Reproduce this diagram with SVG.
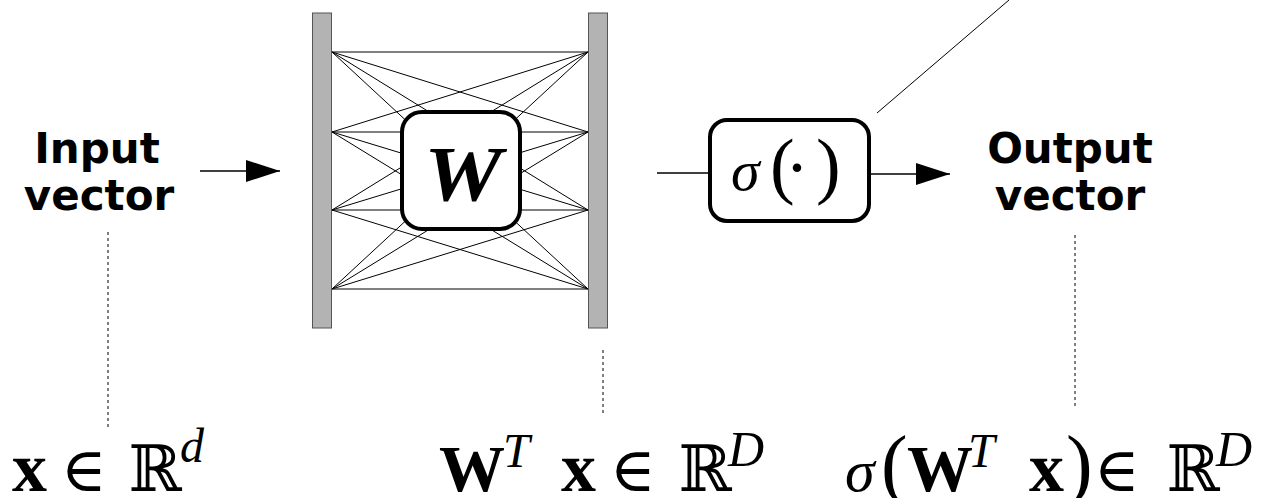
<svg xmlns="http://www.w3.org/2000/svg" width="1274" height="498" viewBox="0 0 1274 498">
<style>
.lbl{font-family:"DejaVu Sans",sans-serif;font-weight:bold;font-size:42px;fill:#000;text-anchor:middle}
.bar{fill:#b3b3b3;stroke:#555;stroke-width:1}
.box{fill:#fff;stroke:#000;stroke-width:4}
.net{stroke:#000;stroke-width:1;fill:none}
.flow{stroke:#000;stroke-width:1.5;fill:none}
.dash{stroke:#000;stroke-width:1;stroke-dasharray:3 3;fill:none}
.bf{font-family:"Liberation Serif",serif;font-weight:bold;fill:#000}
.it{font-family:"Liberation Serif",serif;font-style:italic;fill:#000}
.rm{font-family:"Liberation Serif",serif;fill:#000}
.sym{font-family:"DejaVu Serif","DejaVu Sans",serif;fill:#000;text-anchor:middle}
</style>
<defs>
<marker id="ah" markerWidth="34" markerHeight="22" refX="34" refY="11" orient="auto" markerUnits="userSpaceOnUse">
<path d="M0,0 L34,11 L0,22 Z" fill="#000"/>
</marker>
</defs>

<g id="connectors">
<g id="network">
<line class="net" x1="332" y1="52" x2="588" y2="52"/>
<line class="net" x1="332" y1="52" x2="588" y2="132"/>
<line class="net" x1="332" y1="52" x2="588" y2="210"/>
<line class="net" x1="332" y1="52" x2="588" y2="289"/>
<line class="net" x1="332" y1="132" x2="588" y2="52"/>
<line class="net" x1="332" y1="132" x2="588" y2="132"/>
<line class="net" x1="332" y1="132" x2="588" y2="210"/>
<line class="net" x1="332" y1="132" x2="588" y2="289"/>
<line class="net" x1="332" y1="210" x2="588" y2="52"/>
<line class="net" x1="332" y1="210" x2="588" y2="132"/>
<line class="net" x1="332" y1="210" x2="588" y2="210"/>
<line class="net" x1="332" y1="210" x2="588" y2="289"/>
<line class="net" x1="332" y1="289" x2="588" y2="52"/>
<line class="net" x1="332" y1="289" x2="588" y2="132"/>
<line class="net" x1="332" y1="289" x2="588" y2="210"/>
<line class="net" x1="332" y1="289" x2="588" y2="289"/>
</g>
<line class="flow" x1="200" y1="171" x2="280" y2="171" marker-end="url(#ah)"/>
<line class="flow" x1="657" y1="173" x2="708" y2="173"/>
<line class="flow" x1="871" y1="174" x2="950" y2="174" marker-end="url(#ah)"/>
<line class="net" x1="877" y1="113" x2="1009" y2="0"/>
<line class="dash" x1="108" y1="232" x2="108" y2="430"/>
<line class="dash" x1="603" y1="350" x2="603" y2="415"/>
<line class="dash" x1="1075" y1="235" x2="1075" y2="408"/>
</g>

<g id="input-label">
<text class="lbl" x="97" y="163">Input</text>
<text class="lbl" x="99" y="210">vector</text>
</g>

<g id="output-label">
<text class="lbl" x="1070" y="163">Output</text>
<text class="lbl" x="1070" y="210">vector</text>
</g>

<g id="input-layer">
<rect class="bar" x="312.5" y="13" width="19" height="315"/>
</g>
<g id="output-layer">
<rect class="bar" x="588.5" y="13" width="19" height="315"/>
</g>

<g id="weights">
<rect class="box" x="402" y="112" width="118" height="117" rx="20" ry="20"/>
<text class="bf" x="424" y="200" font-style="italic" font-size="78" textLength="78" lengthAdjust="spacingAndGlyphs">W</text>
</g>

<g id="activation">
<rect class="box" x="710" y="120" width="159" height="101" rx="17" ry="17" stroke-width="3.5"/>
<text class="it" x="731" y="190" font-size="58">σ</text>
<text class="rm" x="770" y="190" font-size="74">(</text>
<text class="rm" x="797" y="192" font-size="72" text-anchor="middle">·</text>
<text class="rm" x="816" y="190" font-size="74">)</text>
</g>

<g id="input-formula">
<text class="bf" x="12" y="491" font-size="70">x</text>
<text class="sym" x="84" y="491" font-size="62">∈</text>
<text class="sym" x="155" y="491" font-size="64">ℝ</text>
<text class="it" x="180" y="462" font-size="48">d</text>
</g>

<g id="hidden-formula">
<text class="bf" x="439" y="491" font-size="66">W</text>
<text class="it" x="503" y="467" font-size="48">T</text>
<text class="bf" x="561" y="491" font-size="70">x</text>
<text class="sym" x="633" y="491" font-size="62">∈</text>
<text class="sym" x="705" y="491" font-size="64">ℝ</text>
<text class="it" x="728" y="466" font-size="50">D</text>
</g>

<g id="output-formula">
<text class="it" x="845" y="491" font-size="60">σ</text>
<text class="rm" x="881" y="491" font-size="80">(</text>
<text class="bf" x="907" y="491" font-size="66">W</text>
<text class="it" x="968" y="467" font-size="48">T</text>
<text class="bf" x="1029" y="491" font-size="70">x</text>
<text class="rm" x="1066" y="491" font-size="80">)</text>
<text class="sym" x="1117" y="491" font-size="62">∈</text>
<text class="sym" x="1193" y="491" font-size="64">ℝ</text>
<text class="it" x="1216" y="466" font-size="50">D</text>
</g>
</svg>
